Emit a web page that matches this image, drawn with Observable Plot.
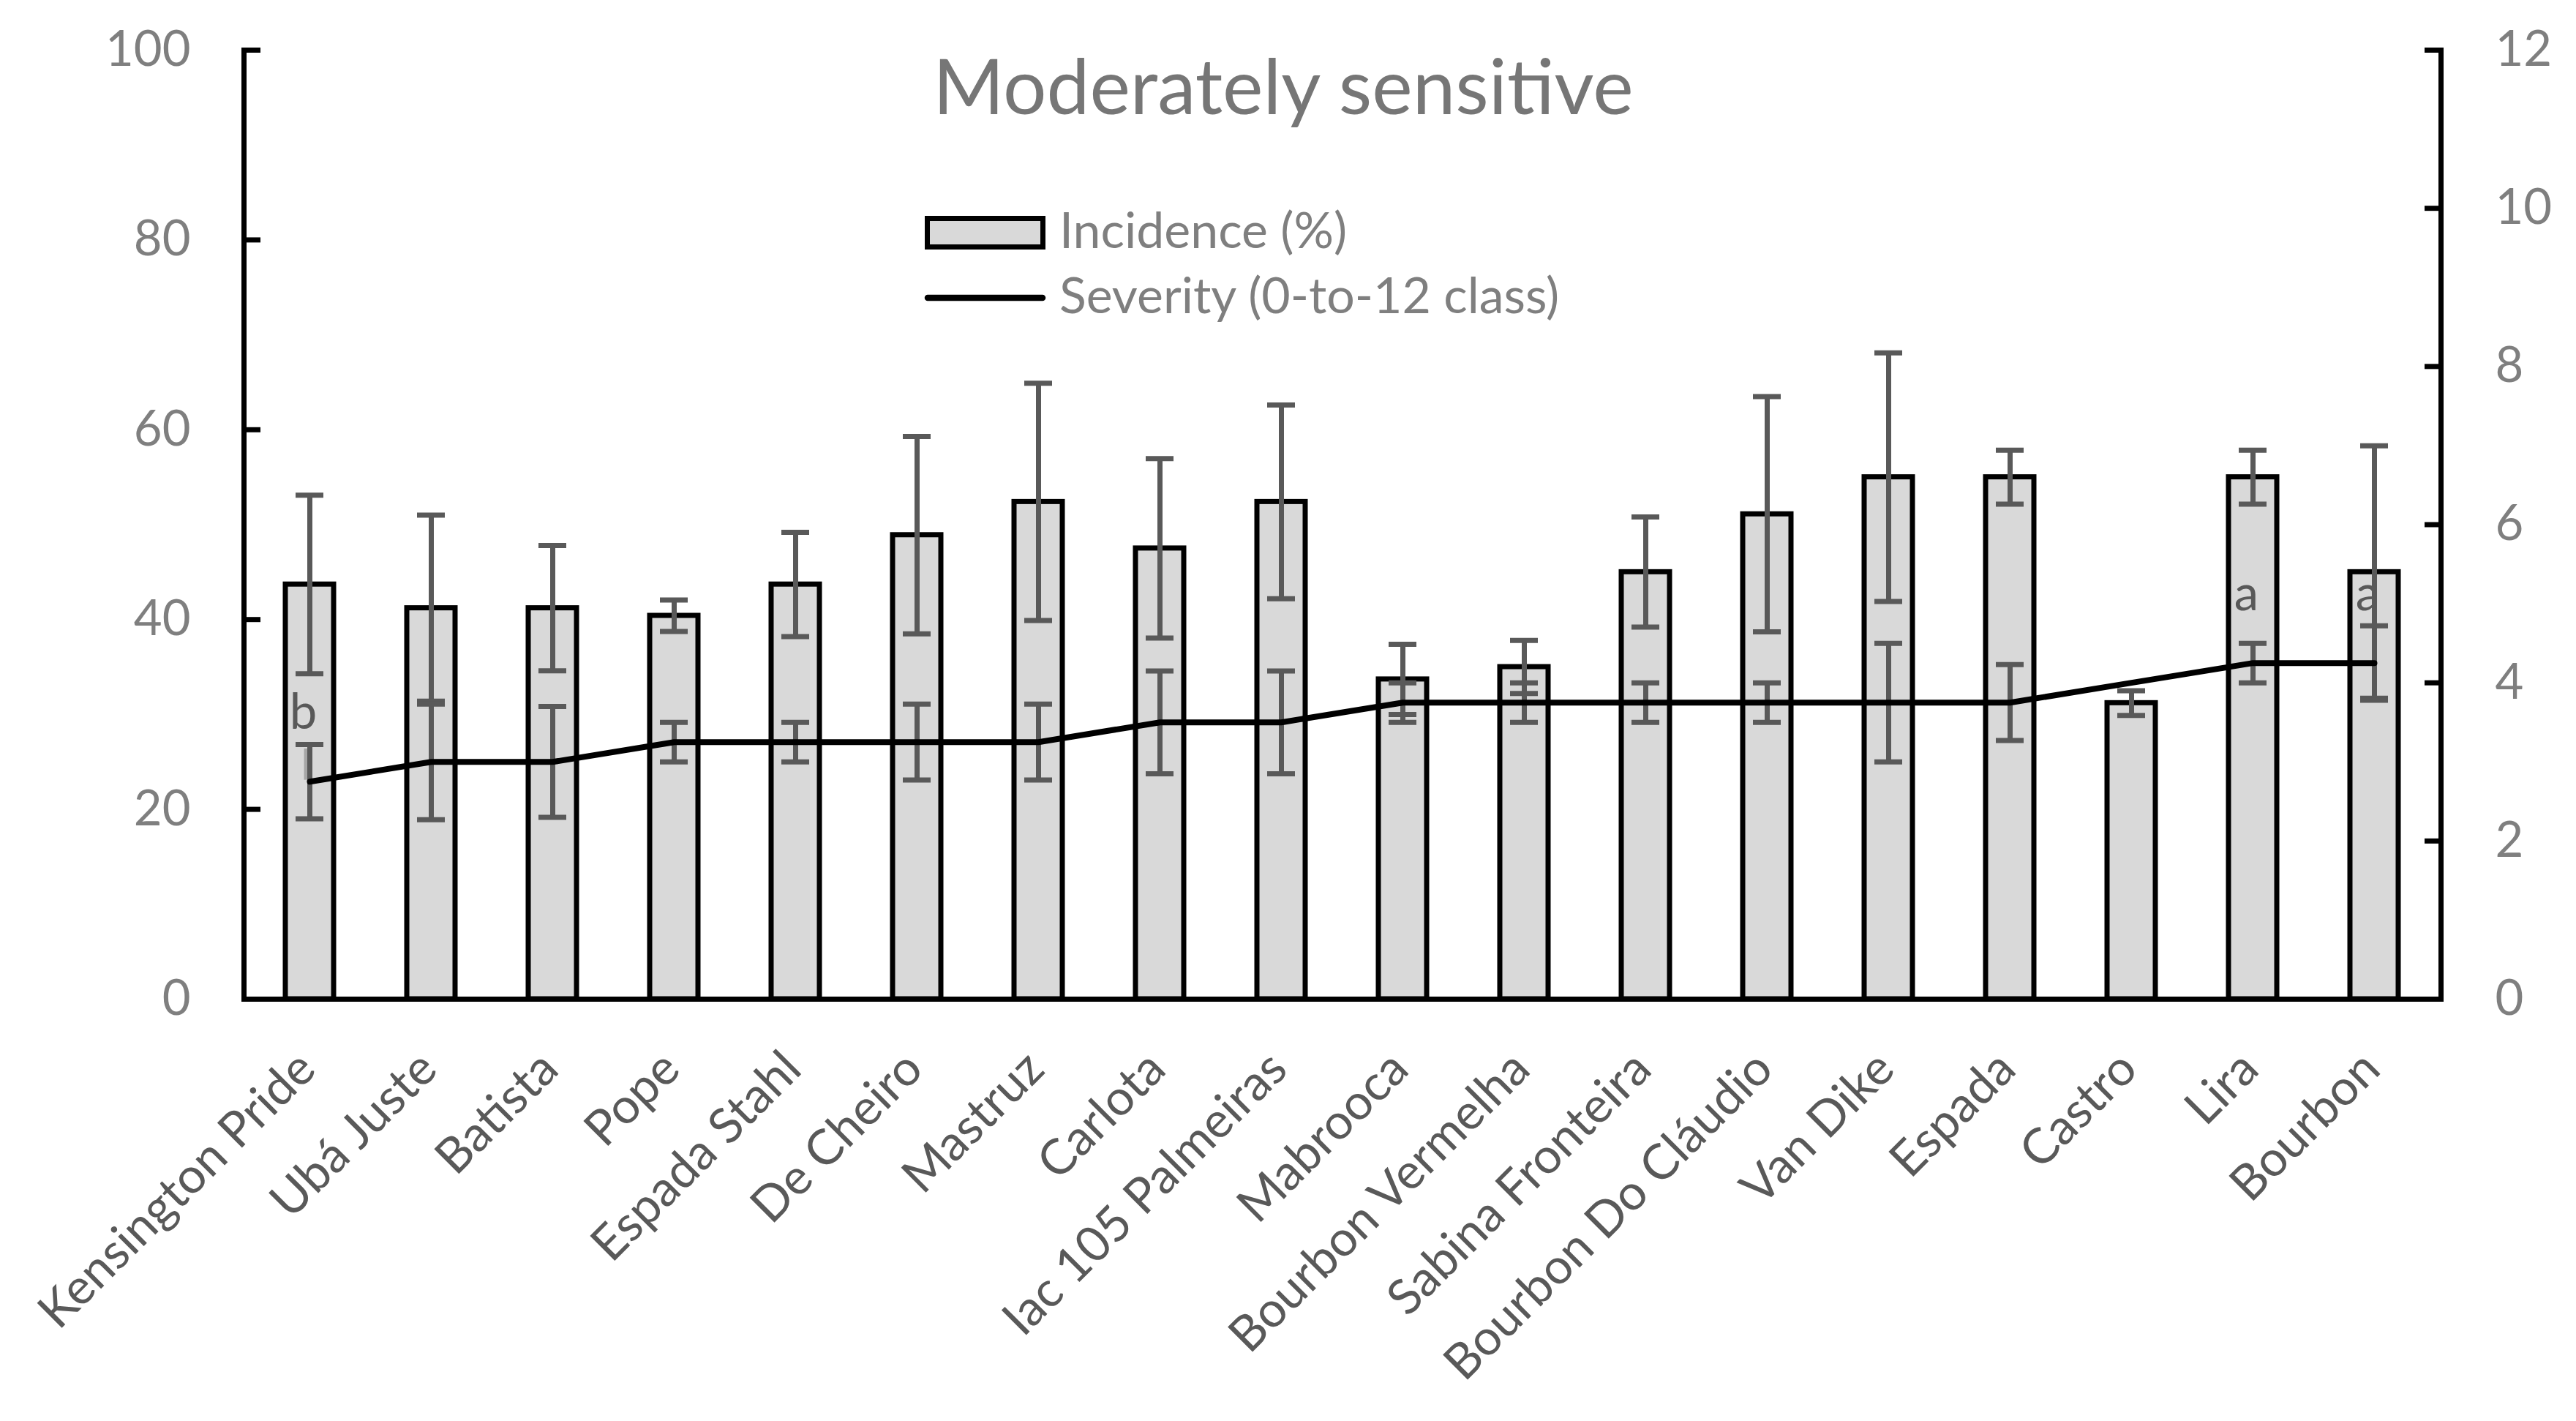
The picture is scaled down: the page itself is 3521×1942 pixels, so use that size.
<!DOCTYPE html>
<html>
<head>
<meta charset="utf-8">
<script src="https://cdn.jsdelivr.net/npm/d3@7"></script>
<script src="https://cdn.jsdelivr.net/npm/@observablehq/plot@0.6"></script>
<style>
  html, body { margin: 0; padding: 0; background: #ffffff; }
  #chart { width: 3521px; height: 1942px; }
</style>
</head>
<body>
<div id="chart"></div>
<script>
// ---- data ----
const categories = ["Kensington Pride", "Ubá Juste", "Batista", "Pope", "Espada Stahl", "De Cheiro", "Mastruz", "Carlota", "Iac 105 Palmeiras", "Mabrooca", "Bourbon Vermelha", "Sabina Fronteira", "Bourbon Do Cláudio", "Van Dike", "Espada", "Castro", "Lira", "Bourbon"];
const incidence   = [43.7, 41.2, 41.2, 40.4, 43.7, 48.9, 52.4, 47.5, 52.4, 33.7, 35.0, 45.0, 51.1, 55.0, 55.0, 31.2, 55.0, 45.0];
const incidenceSE = [9.4, 9.8, 6.6, 1.65, 5.5, 10.4, 12.5, 9.45, 10.2, 3.7, 2.8, 5.8, 12.4, 13.1, 2.85, 1.3, 2.85, 13.3];
const severity    = [2.75, 3.0, 3.0, 3.25, 3.25, 3.25, 3.25, 3.5, 3.5, 3.75, 3.75, 3.75, 3.75, 3.75, 3.75, 4.0, 4.25, 4.25];
const severitySE  = [0.47, 0.73, 0.7, 0.25, 0.25, 0.48, 0.48, 0.65, 0.65, 0.25, 0.25, 0.25, 0.25, 0.75, 0.48, 0, 0.25, 0.47];
const groupLetters = ["b", "", "", "", "", "", "", "", "", "", "", "", "", "", "", "", "a", "a"];
const hasLeader    = [true, false, false, false, false, false, false, false, false, false, false, false, false, false, false, false, false, false];
const leftTicks  = [0, 20, 40, 60, 80, 100];
const rightTicks = [0, 2, 4, 6, 8, 10, 12];
const titleText = "Moderately sensitive";
const legendLabels = ["Incidence (%)", "Severity (0-to-12 class)"];

const INC_MAX = 100, SEV_MAX = 12;
const toLeft = s => s * INC_MAX / SEV_MAX;

const rows = categories.map((c, i) => ({
  cat: c,
  inc: incidence[i],
  incLo: incidence[i] - incidenceSE[i],
  incHi: incidence[i] + incidenceSE[i],
  sev: toLeft(severity[i]),
  sevLo: toLeft(severity[i] - severitySE[i]),
  sevHi: toLeft(severity[i] + severitySE[i]),
  hasSevErr: severitySE[i] > 0,
  letter: groupLetters[i],
  leader: hasLeader[i]
}));

const errColor = "#595959";
const capInset = 14;

const chart = Plot.plot({
  width: 3521,
  height: 1942,
  marginLeft: 333,
  marginRight: 185,
  marginTop: 68,
  marginBottom: 577,
  style: { fontFamily: "Lato, sans-serif", fontSize: "67px", background: "#ffffff", overflow: "visible" },
  x: { type: "band", domain: categories, paddingInner: 0.6, paddingOuter: 0.3 },
  y: { domain: [0, INC_MAX] },
  marks: [
    Plot.barY(rows, { x: "cat", y: "inc", fill: "#d9d9d9", stroke: "#000000", strokeWidth: 7 }),
    Plot.text(rows.filter(d => d.letter), { x: "cat", y: "sev", text: "letter", dy: -72, dx: -9, fill: errColor, fontSize: 67, lineAnchor: "bottom" }),
    Plot.link(rows.filter(d => d.leader), { x1: "cat", x2: "cat", y1: d => d.sev + 0.2, y2: d => d.sev + 3.5, stroke: "#a6a6a6", strokeWidth: 6, dx: -5 }),
    // incidence error bars
    Plot.ruleX(rows, { x: "cat", y1: "incLo", y2: "incHi", stroke: errColor, strokeWidth: 7 }),
    Plot.tickY(rows, { x: "cat", y: "incLo", stroke: errColor, strokeWidth: 7, insetLeft: capInset, insetRight: capInset }),
    Plot.tickY(rows, { x: "cat", y: "incHi", stroke: errColor, strokeWidth: 7, insetLeft: capInset, insetRight: capInset }),
    // severity error bars
    Plot.ruleX(rows.filter(d => d.hasSevErr), { x: "cat", y1: "sevLo", y2: "sevHi", stroke: errColor, strokeWidth: 7 }),
    Plot.tickY(rows.filter(d => d.hasSevErr), { x: "cat", y: "sevLo", stroke: errColor, strokeWidth: 7, insetLeft: capInset, insetRight: capInset }),
    Plot.tickY(rows.filter(d => d.hasSevErr), { x: "cat", y: "sevHi", stroke: errColor, strokeWidth: 7, insetLeft: capInset, insetRight: capInset }),
    // severity line
    Plot.lineY(rows, { x: "cat", y: "sev", stroke: "#000000", strokeWidth: 8, strokeLinecap: "round", strokeLinejoin: "round" }),
    // axis lines
    Plot.frame({ anchor: "left", stroke: "#000000", strokeWidth: 7 }),
    Plot.frame({ anchor: "right", stroke: "#000000", strokeWidth: 7 }),
    Plot.ruleY([0], { stroke: "#000000", strokeWidth: 7 }),
    // left axis: inward ticks + labels
    Plot.axisY(leftTicks, { anchor: "left", tickSize: 23, dx: 23, fill: "none", stroke: "#000000", strokeWidth: 7, tickFormat: () => "", label: null }),
    Plot.axisY(leftTicks, { anchor: "left", tickSize: 0, tickPadding: 73, fontSize: 67, fill: "#7f7f7f", label: null }),
    // right axis (severity, 0-12)
    Plot.axisY(rightTicks.map(toLeft), { anchor: "right", tickSize: 23, dx: -23, fill: "none", stroke: "#000000", strokeWidth: 7, tickFormat: () => "", label: null }),
    Plot.axisY(rightTicks.map(toLeft), { anchor: "right", tickSize: 0, tickPadding: 74, fontSize: 67, fill: "#7f7f7f", label: null,
      tickFormat: d => String(Math.round(d * SEV_MAX / INC_MAX)) }),
    // category axis
    Plot.axisX({ tickSize: 0, tickPadding: 84, tickRotate: -45, dx: -4, fontSize: 67, fill: "#595959", label: null })
  ]
});

document.getElementById("chart").appendChild(chart);

// ---- title and legend (inside the plot area, as in the reference) ----
const svg = d3.select(chart);
svg.append("text")
  .attr("x", 1754).attr("y", 156)
  .attr("text-anchor", "middle")
  .attr("font-family", "Lato, sans-serif")
  .attr("font-size", 105)
  .attr("fill", "#767676")
  .text(titleText);

const lg = svg.append("g")
  .attr("font-family", "Lato, sans-serif")
  .attr("font-size", 68)
  .attr("fill", "#7f7f7f")
  .attr("text-anchor", "start");
lg.append("rect").attr("x", 1267.5).attr("y", 298.5).attr("width", 158).attr("height", 39)
  .attr("fill", "#d9d9d9").attr("stroke", "#000000").attr("stroke-width", 7);
lg.append("line").attr("x1", 1268).attr("x2", 1425).attr("y1", 407).attr("y2", 407)
  .attr("stroke", "#000000").attr("stroke-width", 8.5).attr("stroke-linecap", "round");
lg.append("text").attr("x", 1448).attr("y", 339).attr("text-anchor", "start").text(legendLabels[0]);
lg.append("text").attr("x", 1448).attr("y", 428).attr("text-anchor", "start").text(legendLabels[1]);
</script>
</body>
</html>
